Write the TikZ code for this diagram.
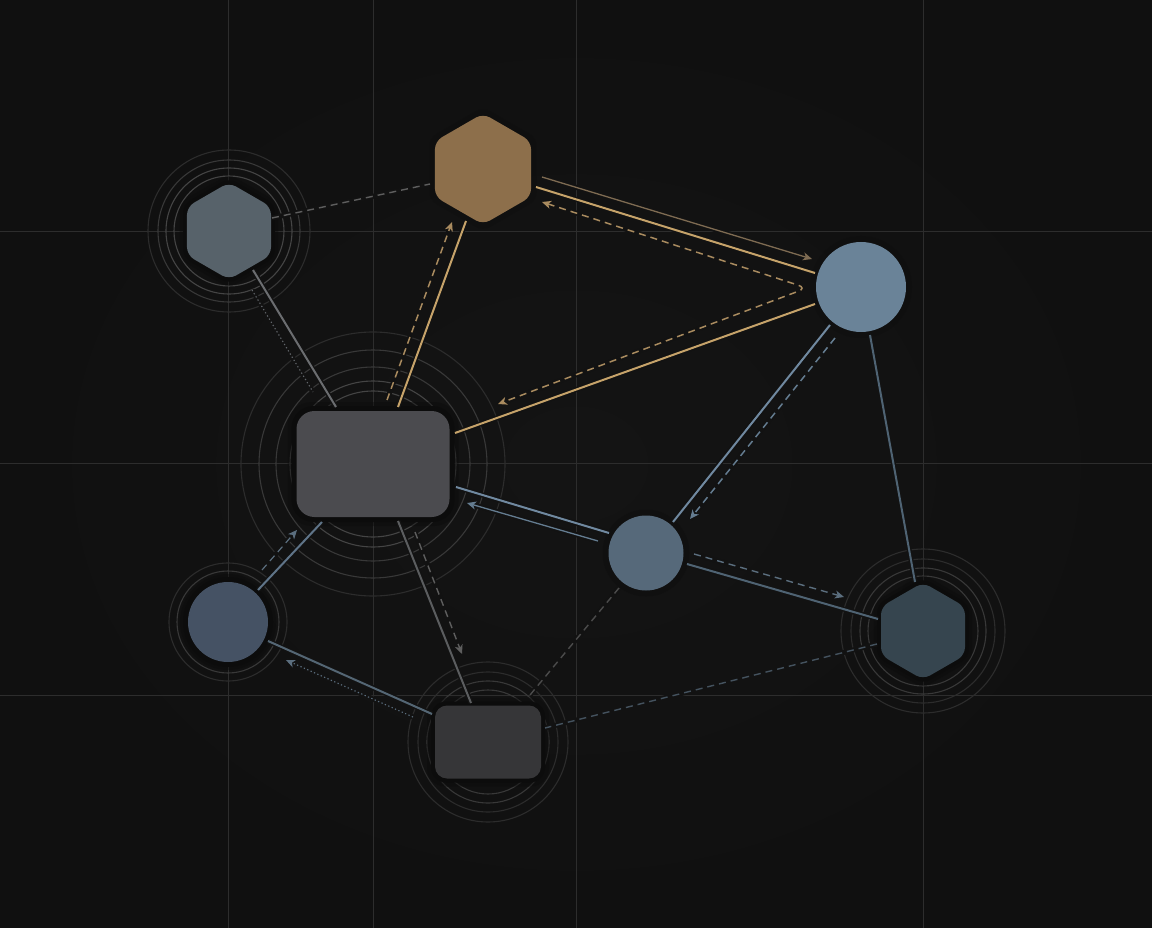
\documentclass[tikz,border=0pt]{standalone}
\usetikzlibrary{shapes.geometric,arrows.meta,calc}
\pgfdeclarelayer{back}
\pgfdeclarelayer{edges}
\pgfsetlayers{back,edges,main}
\definecolor{bg}{HTML}{121212}
\definecolor{bgin}{HTML}{141414}
\definecolor{bgout}{HTML}{101010}
\definecolor{gridc}{HTML}{2D2D2D}
\definecolor{ringhi}{HTML}{444444}
\definecolor{ringmd}{HTML}{383838}
\definecolor{ringlo}{HTML}{2C2C2C}
\definecolor{halo}{HTML}{0C0C0C}
\definecolor{ghexc}{HTML}{57626A}
\definecolor{goldc}{HTML}{8D6F4B}
\definecolor{bigcc}{HTML}{6A8398}
\definecolor{mainc}{HTML}{4B4B4F}
\definecolor{medcc}{HTML}{56697A}
\definecolor{dbcc}{HTML}{455264}
\definecolor{dhexc}{HTML}{36454F}
\definecolor{brectc}{HTML}{363638}
\definecolor{goldline}{HTML}{C6A36A}
\definecolor{golddash}{HTML}{A98B5F}
\definecolor{brownline}{HTML}{7E6B52}
\definecolor{blueline}{HTML}{7089A0}
\definecolor{bluedash}{HTML}{647C90}
\definecolor{slateline}{HTML}{4F6373}
\definecolor{slatedash}{HTML}{5B6E7E}
\definecolor{grayline}{HTML}{6B6D70}
\definecolor{graydash}{HTML}{5E5E5E}
\definecolor{graydot}{HTML}{62666B}
\tikzset{
  hexa/.style={regular polygon, regular polygon sides=6, shape border rotate=30,
    inner sep=0pt, outer sep=0pt, rounded corners=8pt},
  roundc/.style={circle, inner sep=0pt, outer sep=0pt},
  card/.style={rectangle, inner sep=0pt, outer sep=0pt},
  gridline/.style={draw=gridc, line width=1pt},
  ring/.style={draw=#1, line width=1.1pt},
  conn/.style={preaction={draw=bg, line width=5pt, arrows=-, solid}},
  tipend/.style={-{Stealth[length=9pt,width=8pt,inset=2.5pt]}},
  tipboth/.style={{Stealth[length=9pt,width=8pt,inset=2.5pt]}-{Stealth[length=9pt,width=8pt,inset=2.5pt]}},
  dsh/.style={dash pattern=on 7pt off 5pt},
  dts/.style={dash pattern=on 1.3pt off 2.4pt},
  goldS/.style={conn, draw=goldline, line width=2pt},
  goldD/.style={conn, draw=golddash, line width=1.5pt, dsh},
  brownT/.style={conn, draw=brownline, line width=1.3pt},
  blueS/.style={conn, draw=blueline, line width=2pt},
  blueT/.style={conn, draw=bluedash, line width=1.3pt},
  blueD/.style={conn, draw=bluedash, line width=1.5pt, dsh},
  slateS/.style={conn, draw=slateline, line width=2pt},
  slateD/.style={conn, draw=slatedash, line width=1.4pt, dsh},
  grayS/.style={conn, draw=grayline, line width=2pt},
  grayD/.style={conn, draw=graydash, line width=1.4pt, dsh},
  grayDot/.style={conn, draw=graydot, line width=1.1pt, dts},
}
\begin{document}
\begin{tikzpicture}[x=1pt,y=-1pt]
\useasboundingbox (0,0) rectangle (1152,928);

% ---------- nodes ----------
\node[hexa, minimum size=97pt, fill=ghexc] (ghex) at (229,231) {};
\node[hexa, minimum size=111pt, fill=goldc] (gold) at (483,169) {};
\node[roundc, minimum size=90pt, fill=bigcc] (bigc) at (861,287) {};
\node[card, minimum width=153pt, minimum height=106pt, rounded corners=18pt, fill=mainc] (main) at (373,464) {};
\node[roundc, minimum size=75pt, fill=medcc] (medc) at (646,553) {};
\node[roundc, minimum size=80pt, fill=dbcc] (dbc) at (228,622) {};
\node[hexa, minimum size=97pt, fill=dhexc] (dhex) at (923,631) {};
\node[card, minimum width=106pt, minimum height=73pt, rounded corners=12pt, fill=brectc] (brect) at (488,742) {};

% ---------- background, grid, rings, halos ----------
\begin{pgfonlayer}{back}
\shade[inner color=bgin, outer color=bgout] (0,0) rectangle (1152,928);
\foreach \gx in {228,373,576,923} \draw[gridline] (\gx,0) -- (\gx,928);
\foreach \gy in {232,463,695} \draw[gridline] (0,\gy) -- (1152,\gy);
% rings
\draw[ring=ringhi] (ghex) circle[radius=55pt];
\draw[ring=ringhi] (ghex) circle[radius=63pt];
\draw[ring=ringmd] (ghex) circle[radius=71pt];
\draw[ring=ringlo] (ghex) circle[radius=81pt];
\draw[ring=ringhi] (main) circle[radius=73pt];
\draw[ring=ringhi] (main) circle[radius=83pt];
\draw[ring=ringmd] (main) circle[radius=97pt];
\draw[ring=ringmd] (main) circle[radius=114pt];
\draw[ring=ringlo] (main) circle[radius=132pt];
\draw[ring=ringmd] (dbc) circle[radius=51pt];
\draw[ring=ringlo] (dbc) circle[radius=59pt];
\draw[ring=ringmd] (dhex) circle[radius=55pt];
\draw[ring=ringmd] (dhex) circle[radius=63pt];
\draw[ring=ringlo] (dhex) circle[radius=72pt];
\draw[ring=ringlo] (dhex) circle[radius=82pt];
\draw[ring=ringmd] (brect) circle[radius=52pt];
\draw[ring=ringmd] (brect) circle[radius=61pt];
\draw[ring=ringlo] (brect) circle[radius=70pt];
\draw[ring=ringlo] (brect) circle[radius=80pt];
% soft dark halos round the shapes
\node[hexa, minimum size=114pt, fill=halo, fill opacity=.45] (ghexh) at (ghex) {};
\node[hexa, minimum size=106pt, fill=halo] (ghexh2) at (ghex) {};
\node[hexa, minimum size=114pt, fill=halo, fill opacity=.45] (dhexh) at (dhex) {};
\node[hexa, minimum size=106pt, fill=halo] (dhexh2) at (dhex) {};
\node[card, minimum width=171pt, minimum height=124pt, rounded corners=24pt, fill=halo, fill opacity=.45] (mainh) at (main) {};
\node[card, minimum width=163pt, minimum height=116pt, rounded corners=22pt, fill=halo] (mainh2) at (main) {};
\node[card, minimum width=122pt, minimum height=89pt, rounded corners=18pt, fill=halo, fill opacity=.45] (brecth) at (brect) {};
\node[card, minimum width=114pt, minimum height=81pt, rounded corners=15pt, fill=halo] (brecth2) at (brect) {};
\node[roundc, minimum size=96pt, fill=halo, fill opacity=.45] (dbch) at (dbc) {};
\node[roundc, minimum size=90pt, fill=halo] (dbch2) at (dbc) {};
\node[roundc, minimum size=102pt, fill=halo, fill opacity=.3] (bigch) at (bigc) {};
\node[roundc, minimum size=87pt, fill=halo, fill opacity=.4] (medch) at (medc) {};
\node[hexa, minimum size=124pt, fill=halo, fill opacity=.3] (goldh) at (gold) {};
\end{pgfonlayer}

% ---------- connectors ----------
\begin{pgfonlayer}{edges}
% gray hexagon
\draw[grayD] ($(ghex)+(43,-13)$) -- ($(gold)+(-53,15)$);
\draw[grayS] ($(ghex)+(24,39)$) -- ($(main)+(-37,-57)$);
\draw[grayDot] ($(ghex)+(23,59)$) -- ($(main)+(-60,-72)$);
% main <-> gold
\draw[goldS] ($(main)+(25,-57)$) -- ($(gold)+(-17,52)$);
\draw[goldD, tipend] ($(main)+(14,-64)$) -- ($(gold)+(-31,53)$);
% gold <-> big circle
\draw[brownT, tipend] ($(gold)+(59,8)$) -- ($(bigc)+(-49,-28)$);
\draw[goldS] ($(gold)+(53,18)$) -- ($(bigc)+(-46,-14)$);
\draw[goldD, tipboth, rounded corners=9pt] ($(gold)+(59,33)$) -- ($(bigc)+(-54,1)$) -- ($(main)+(125,-60)$);
\draw[goldS] ($(main)+(82,-31)$) -- ($(bigc)+(-46,17)$);
% big circle
\draw[blueS] ($(bigc)+(-31,38)$) -- ($(medc)+(27,-31)$);
\draw[blueD, tipend] ($(bigc)+(-26,51)$) -- ($(medc)+(44,-34)$);
\draw[slateS] ($(bigc)+(9,48)$) -- ($(dhex)+(-8,-49)$);
% medium circle
\draw[blueS] ($(medc)+(-37,-20)$) -- ($(main)+(83,23)$);
\draw[blueT, tipend] ($(medc)+(-48,-12)$) -- ($(main)+(94,39)$);
\draw[slateD, tipend] ($(medc)+(48,1)$) -- ($(dhex)+(-79,-34)$);
\draw[slateS] ($(medc)+(41,11)$) -- ($(dhex)+(-45,-12)$);
\draw[grayD, draw=graydash!80!black] ($(medc)+(-27,35)$) -- ($(brect)+(42,-47)$);
% dark hexagon to bottom card
\draw[grayD, draw=slatedash!75!black] ($(dhex)+(-46,13)$) -- ($(brect)+(57,-14)$);
% main to bottom card
\draw[grayS, draw=grayline!85!black] ($(main)+(25,57)$) -- ($(brect)+(-17,-39)$);
\draw[grayD, tipend] ($(main)+(42,68)$) -- ($(brect)+(-26,-88)$);
% dark blue circle
\draw[blueS, draw=blueline!85!black] ($(dbc)+(30,-32)$) -- ($(main)+(-51,58)$);
\draw[slateD, line width=1.2pt, tipend] ($(dbc)+(34,-52)$) -- ($(main)+(-76,66)$);
\draw[slateS, draw=slateline!90!gray] ($(dbc)+(40,19)$) -- ($(brect)+(-56,-28)$);
\draw[grayDot, draw=slatedash, tipend] ($(brect)+(-75,-25)$) -- ($(dbc)+(58,38)$);
\end{pgfonlayer}
\end{tikzpicture}
\end{document}
